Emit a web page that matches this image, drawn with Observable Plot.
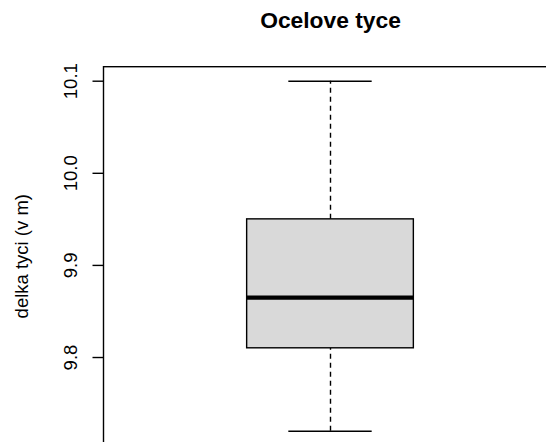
<!DOCTYPE html>
<html>
<head>
<meta charset="utf-8">
<script src="https://cdn.jsdelivr.net/npm/d3@7"></script>
<script src="https://cdn.jsdelivr.net/npm/@observablehq/plot@0.6"></script>
<style>
  html, body { margin: 0; padding: 0; background: #fff; }
</style>
</head>
<body>
<div id="chart"></div>
<script>
// ---- data ----
const title = "Ocelove tyce";
const yLabel = "delka tyci (v m)";
const groups = [1];
const lowerWhisker = [9.72];
const q1 = [9.81];
const median = [9.865];
const q3 = [9.95];
const upperWhisker = [10.1];
const yTicks = [9.8, 9.9, 10.0, 10.1];

const stats = groups.map((g, i) => ({
  x: g, lo: lowerWhisker[i], q1: q1[i], med: median[i], q3: q3[i], hi: upperWhisker[i]
}));

// R-style axis extension (4%)
const yMin = d3.min(lowerWhisker), yMax = d3.max(upperWhisker);
const ext = (yMax - yMin) * 0.04;
const yDomain = [yMin - ext, yMax + ext];
const xDomain = [0.5, 1.5];
const xRange = [103.5, 556.5];
const pxX = (xDomain[1] - xDomain[0]) / (xRange[1] - xRange[0]); // data units per pixel
const boxW = 0.368, capW = boxW / 2;
const tickLen = 11;

const font = "'Liberation Sans', Arial, Helvetica, sans-serif";
const lw = 1.4;

const chart = Plot.plot({
  width: 546,
  height: 442,
  marginLeft: 103.5,
  marginTop: 66.7,
  marginRight: 0,
  marginBottom: 0,
  style: { background: "#fff", fontFamily: font, color: "#000", overflow: "hidden" },
  x: { domain: xDomain, range: xRange, axis: null },
  y: { domain: yDomain, range: [444.7, 66.7], axis: null },
  marks: [
    // whiskers
    Plot.ruleX(stats, { x: "x", y1: "q3", y2: "hi", stroke: "#000", strokeWidth: lw, strokeDasharray: "5,4" }),
    Plot.ruleX(stats, { x: "x", y1: "lo", y2: "q1", stroke: "#000", strokeWidth: lw, strokeDasharray: "5,4" }),
    // caps
    Plot.ruleY(stats, { y: "hi", x1: d => d.x - capW / 2, x2: d => d.x + capW / 2, stroke: "#000", strokeWidth: lw }),
    Plot.ruleY(stats, { y: "lo", x1: d => d.x - capW / 2, x2: d => d.x + capW / 2, stroke: "#000", strokeWidth: lw }),
    // box
    Plot.rect(stats, { x1: d => d.x - boxW / 2, x2: d => d.x + boxW / 2, y1: "q1", y2: "q3", fill: "#d9d9d9", stroke: "#000", strokeWidth: lw }),
    // median
    Plot.ruleY(stats, { y: "med", x1: d => d.x - boxW / 2, x2: d => d.x + boxW / 2, stroke: "#000", strokeWidth: 4.2 }),
    // plot frame
    Plot.rect([0], { x1: () => xDomain[0], x2: () => xDomain[1], y1: () => yDomain[0], y2: () => yDomain[1], fill: "none", stroke: "#000", strokeWidth: lw }),
    // y axis ticks
    Plot.ruleY(yTicks, { y: d => d, x1: () => xDomain[0] - tickLen * pxX, x2: () => xDomain[0], stroke: "#000", strokeWidth: lw }),
    Plot.text(yTicks, { x: () => xDomain[0], y: d => d, text: d => d.toFixed(1), rotate: -90, dx: -33, textAnchor: "middle", lineAnchor: "middle", fontSize: 18.5, fill: "#000" }),
    // y label
    Plot.text([yLabel], { x: () => xDomain[0], y: () => (yDomain[0] + yDomain[1]) / 2, text: d => d, rotate: -90, dx: -82, textAnchor: "middle", lineAnchor: "middle", fontSize: 18.5, fill: "#000" }),
    // title
    Plot.text([title], { x: () => (xDomain[0] + xDomain[1]) / 2, y: () => yDomain[1], text: d => d, dy: -39, textAnchor: "middle", lineAnchor: "bottom", fontSize: 22.8, fontWeight: "bold", fill: "#000" })
  ]
});

document.getElementById("chart").appendChild(chart);
</script>
</body>
</html>
